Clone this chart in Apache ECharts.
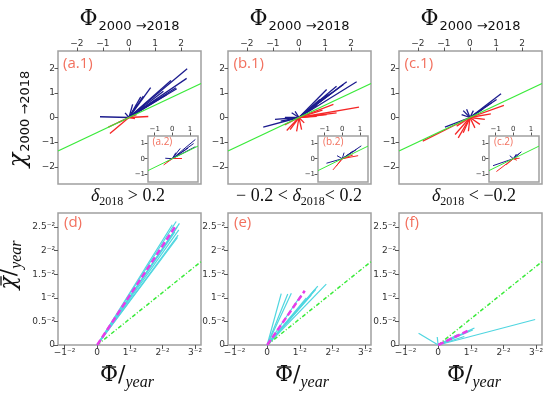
<!DOCTYPE html>
<html><head><meta charset="utf-8">
<script src="https://cdn.jsdelivr.net/npm/echarts@6/dist/echarts.min.js"></script>
<style>html,body{margin:0;padding:0;background:#fff}#c{width:550px;height:395px}</style>
</head><body><div id="c"></div>
<script>
// ---- tick values ----
const topTicks = [-2, -1, 0, 1, 2];
const insetTicks = [-1, 0, 1];
const botXTicks = [-1, 0, 1, 2, 3];
const botYTicks = [0, 0.5, 1, 1.5, 2, 2.5];
// reference slopes
const refSlopeTop = 0.5;
const refSlopeInset = 0.57;
const refSlopeBottom = 0.556;
// ---- top panels: segment end points (start at origin) ----
const a1Blue = [[2.23,1.98],[2.21,1.59],[1.61,1.50],[1.80,1.21],[1.83,1.17],[1.44,0.93],[1.32,1.07],[0.83,1.21],[0.55,0.87],[0.45,0.84],[0.32,0.53],[0.14,0.53],[-1.11,0.03],[-0.15,0.19],[1.1,0.75],[0.9,0.6],[0.6,0.45]];
const a1Red = [[0.74,0.04],[-0.73,-0.65],[-0.79,-0.39],[0.23,-0.04],[-0.15,-0.08],[0.29,0.12],[-0.4,-0.2]];
const b1Blue = [[2.21,1.45],[1.83,1.45],[1.70,1.34],[1.44,1.27],[1.25,1.0],[1.06,1.14],[1.12,0.93],[-1.37,-0.39],[-0.92,-0.08],[-0.54,0.0],[-0.28,0.19],[0.49,0.39],[0.80,0.73],[0.95,0.8],[0.7,0.5],[-0.15,0.25],[-0.7,-0.15]];
const b1Red = [[2.30,0.42],[1.32,0.53],[1.44,0.19],[1.06,0.12],[0.68,0.05],[-0.47,-0.53],[-0.34,-0.49],[-0.09,-0.56],[0.10,-0.49],[0.20,-0.22],[-0.55,-0.3],[0.9,0.3]];
const c1Blue = [[1.19,0.96],[1.02,0.73],[0.83,0.60],[-0.32,0.12],[-0.26,0.28],[-0.13,0.33],[0.13,0.28],[-0.96,-0.39],[0.5,0.35]];
const c1Red = [[1.30,0.49],[-1.81,-0.96],[-0.57,-0.69],[-0.45,-0.83],[-0.26,-0.62],[-0.06,-0.56],[0.19,-0.42],[0.38,-0.28],[0.57,-0.08],[-0.51,-0.35],[0.8,0.15]];
// ---- insets ----
const a2Blue = [[1.31,1.27],[1.21,1.0],[1.31,0.79],[0.45,0.68],[-0.40,0.03],[0.9,0.7],[0.2,0.4]];
const a2Red = [[-0.49,-0.41],[0.55,0.0],[-0.3,-0.2]];
const b2Blue = [[1.08,0.85],[0.8,0.6],[-0.9,-0.3],[-0.3,0.2],[0.1,0.4],[0.6,0.5]];
const b2Red = [[0.6,0.24],[-0.53,-0.74],[-0.35,-0.5],[0.35,0.12],[0.9,0.2]];
const c2Blue = [[0.46,0.46],[0.18,0.31],[-1.15,-0.46],[-0.2,0.2],[0.35,0.35]];
const c2Red = [[-0.96,-0.85],[0.36,0.03],[0.2,-0.1],[-0.4,-0.4]];
// ---- bottom panels ----
const dCyan = [[2.42,2.62],[2.52,2.58],[2.30,2.55],[2.45,2.50],[2.50,2.44],[2.48,2.33],[2.46,2.28],[2.38,2.40]];
const dMean = [2.38, 2.50];
const eCyan = [[0.43,1.09],[0.63,1.08],[0.74,1.10],[1.04,1.06],[1.35,1.06],[1.45,1.17],[1.49,1.18],[1.55,1.25],[1.81,1.29],[1.2,1.0]];
const eMean = [1.15, 1.15];
const fCyan = [[2.97,0.54],[-0.60,0.25],[-0.03,0.17],[1.11,0.36],[1.06,0.32],[0.6,0.22],[0.8,0.18],[0.4,0.13]];
const fMean = [0.9, 0.30];

const BLUE = '#1c1c8e', RED = '#f52626', GREEN = '#3aea3a', CYAN = '#4fd6e0', MAG = '#e83ce8';
const LBL = '#f2705e';
const topX = [-2.72, 2.76], topY = [-2.7, 2.7];
const inX = [-1.38, 1.46], inY = [-1.54, 1.5];
const botX = [-1.2, 3.18], botY = [0, 2.8];

const grids = [], xAxes = [], yAxes = [], series = [];
function fmtNum(v){ return String(v).replace('-', '\u2212'); }
const supFmt = v => v === 0 ? '0' : fmtNum(v) + '\u207B\u00B2';

function addPanel(g, xr, yr, xt, yt, top, fs, xFmt, yFmt, bg) {
  const i = grids.length;
  grids.push(Object.assign({show: true, borderColor: '#a0a0a0', borderWidth: 1.5, backgroundColor: bg || 'transparent', containLabel: false}, g));
  const tick = {show: true, inside: false, length: top ? 3.5 : 4, lineStyle: {color: '#555', width: 1}};
  xAxes.push({gridIndex: i, type: 'value', min: xr[0], max: xr[1], position: top ? 'top' : 'bottom',
    axisLine: {show: false, onZero: false}, splitLine: {show: false},
    axisTick: Object.assign({customValues: xt}, tick),
    axisLabel: {customValues: xt, color: '#333', fontSize: fs, fontFamily: 'DejaVu Sans', margin: 3, formatter: xFmt}});
  yAxes.push({gridIndex: i, type: 'value', min: yr[0], max: yr[1],
    axisLine: {show: false, onZero: false}, splitLine: {show: false},
    axisTick: Object.assign({customValues: yt}, tick),
    axisLabel: {customValues: yt, color: '#333', fontSize: fs, fontFamily: 'DejaVu Sans', margin: 3, formatter: yFmt}});
  return i;
}
function segs(i, pts, color, width, type, z) {
  series.push({type: 'lines', coordinateSystem: 'cartesian2d', xAxisIndex: i, yAxisIndex: i, polyline: false, silent: true, z: z || 2,
    lineStyle: {color: color, width: width, opacity: 1, type: type || 'solid'},
    data: pts.map(p => ({coords: [[0, 0], p]}))});
}
function refLine(i, slope, x0, x1, type, width, z) {
  series.push({type: 'line', xAxisIndex: i, yAxisIndex: i, showSymbol: false, silent: true, z: z || 3,
    lineStyle: {color: GREEN, width: width, type: type},
    data: [[x0, slope * x0], [x1, slope * x1]]});
}

const topLefts = [58, 228, 399];
const topB = [[a1Blue, a1Red], [b1Blue, b1Red], [c1Blue, c1Red]];
const insB = [[a2Blue, a2Red], [b2Blue, b2Red], [c2Blue, c2Red]];
const botD = [[dCyan, dMean], [eCyan, eMean], [fCyan, fMean]];
const f0 = v => fmtNum(v);
for (let k = 0; k < 3; k++) {
  const L = topLefts[k];
  const i = addPanel({left: L, top: 51, width: 143, height: 133}, topX, topY, topTicks, topTicks, true, 9, f0, f0);
  segs(i, topB[k][0], BLUE, 1.3);
  segs(i, topB[k][1], RED, 1.3);
  refLine(i, refSlopeTop, topX[0], topX[1], 'solid', 1.3, 4);
}
for (let k = 0; k < 3; k++) {
  const L = topLefts[k] + 90;
  const i = addPanel({left: L, top: 136, width: 50, height: 46, z: 5}, inX, inY, insetTicks, insetTicks, true, 7, f0, f0, '#fff');
  segs(i, insB[k][0], BLUE, 1, 'solid', 6);
  segs(i, insB[k][1], RED, 1, 'solid', 6);
  refLine(i, refSlopeInset, inX[0], inX[1], 'solid', 1, 7);
}
for (let k = 0; k < 3; k++) {
  const L = topLefts[k];
  const i = addPanel({left: L, top: 213, width: 143, height: 132}, botX, botY, botXTicks, botYTicks, false, 9, supFmt, supFmt);
  segs(i, botD[k][0], CYAN, 1.2);
  refLine(i, refSlopeBottom, 0, botX[1], [4, 2, 1, 2], 1.5, 4);
  series.push({type: 'line', xAxisIndex: i, yAxisIndex: i, showSymbol: false, silent: true, z: 5,
    lineStyle: {color: MAG, width: 2.5, type: [6, 3]}, data: [[0, 0], botD[k][1]]});
}

// ---- texts ----
const serif = 'Liberation Serif';
const mctx = document.createElement('canvas').getContext('2d');
function tw(font, s) { mctx.font = font; return mctx.measureText(s).width; }
const g = [];
function rt(x, y, text, rich, rot, align) {
  g.push({type: 'text', x: x, y: y, rotation: rot || 0, silent: true,
    style: {text: text, rich: rich, textAlign: align || 'center', textVerticalAlign: 'middle', fill: '#111'}});
}
const titleRich = {p: {fontFamily: 'DejaVu Serif', fontSize: 22, verticalAlign: 'top', lineHeight: 28, fill: '#111'},
  s: {fontFamily: 'DejaVu Sans', fontSize: 13, verticalAlign: 'top', padding: [12, 0, 0, 1], fill: '#111'}};
const tc = [129.5, 299.5, 470.5];
tc.forEach(c => rt(c, 22, '{p|Φ}{s|2000 →2018}', titleRich));
rt(21, 119, '{p|χ}{s|2000 →2018}', {p: {fontFamily: 'DejaVu Serif', fontStyle: 'italic', fontSize: 24, verticalAlign: 'top', lineHeight: 28, fill: '#111'},
  s: {fontFamily: 'DejaVu Sans', fontSize: 13, verticalAlign: 'top', padding: [12, 0, 0, 1], fill: '#111'}}, Math.PI / 2);
const dRich = {d: {fontFamily: serif, fontStyle: 'italic', fontSize: 18, verticalAlign: 'top', lineHeight: 24, fill: '#111'},
  s: {fontFamily: serif, fontSize: 12, verticalAlign: 'top', padding: [9, 0, 0, 0], fill: '#111'},
  t: {fontFamily: serif, fontSize: 18, verticalAlign: 'top', lineHeight: 24, fill: '#111'}};
rt(128, 199, '{d|δ}{s|2018}{t| > 0.2}', dRich);
rt(299, 199, '{t|− 0.2 < }{d|δ}{s|2018}{t|< 0.2}', dRich);
rt(474, 199, '{d|δ}{s|2018}{t| < −0.2}', dRich);

// bar-labels: group with rich text + overbar line
function barLabel(x, y, sym, italic, rot) {
  const pf = (italic ? 'italic ' : '') + '22px "DejaVu Serif"';
  const wP = tw(pf, sym), wT = tw('22px "DejaVu Serif"', '/'), wS = tw('italic 16px "Liberation Serif"', 'year');
  const W = wP + wT + wS;
  const x0 = -W / 2;
  g.push({type: 'group', x: x, y: y, rotation: rot || 0, silent: true, children: [
    {type: 'text', x: 0, y: 0, style: {text: '{p|' + sym + '}{t|/}{s|year}', textAlign: 'center', textVerticalAlign: 'middle',
      rich: {p: {fontFamily: 'DejaVu Serif', fontStyle: italic ? 'italic' : 'normal', fontSize: 22, verticalAlign: 'top', lineHeight: 28, fill: '#111'},
        t: {fontFamily: 'DejaVu Serif', fontSize: 22, verticalAlign: 'top', lineHeight: 28, fill: '#111'},
        s: {fontFamily: serif, fontStyle: 'italic', fontSize: 16, verticalAlign: 'top', padding: [11, 0, 0, 0], fill: '#111'}}}},
    {type: 'line', shape: {x1: x0 + 2 + (italic ? 2 : 0), y1: -11, x2: x0 + wP - 2 + (italic ? 2 : 0), y2: -11}, style: {stroke: '#111', lineWidth: 1.3}}
  ]});
}
[127, 302, 474].forEach(c => barLabel(c, 378, 'Φ', false, 0));
barLabel(12, 265, 'χ', true, Math.PI / 2);

// panel labels
function pl(x, y, t, fs) {
  g.push({type: 'text', x: x, y: y, silent: true, z: 20,
    style: {text: t, fontFamily: 'Open Sans', fontSize: fs, fill: LBL, textAlign: 'left', textVerticalAlign: 'middle'}});
}
pl(63, 64, '(a.1)', 15); pl(233.5, 64, '(b.1)', 15); pl(404.5, 64, '(c.1)', 15);
pl(152.5, 142, '(a.2)', 10); pl(323, 142, '(b.2)', 10); pl(494, 142, '(c.2)', 10);
pl(64, 223, '(d)', 15); pl(234, 223, '(e)', 15); pl(405, 223, '(f)', 15);

const chart = echarts.init(document.getElementById('c'), null, {renderer: 'canvas'});
chart.setOption({animation: false, backgroundColor: '#fff', grid: grids, xAxis: xAxes, yAxis: yAxes, series: series, graphic: g});
</script></body></html>
